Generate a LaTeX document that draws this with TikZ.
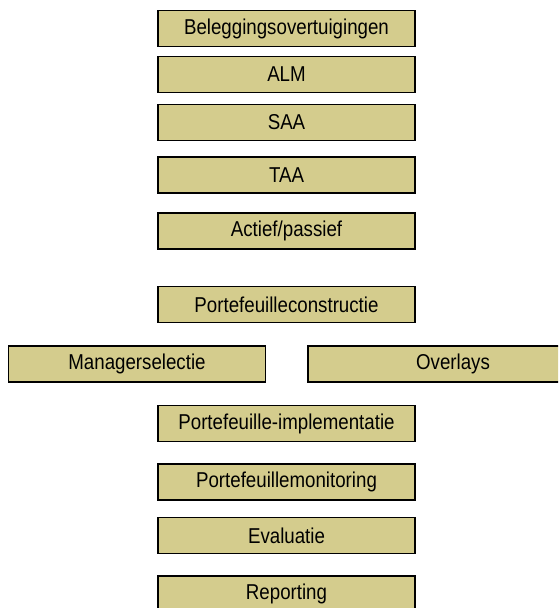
\documentclass[tikz,border=0pt]{standalone}
\usepackage{fontspec}
\setmainfont{Liberation Sans}[FakeStretch=0.87]
\definecolor{boxfill}{RGB}{212,204,141}
\begin{document}
\begin{tikzpicture}[x=1pt,y=-1pt,
  stepbox/.style={draw=black,line width=1.6pt,fill=boxfill,minimum width=257pt,minimum height=36pt,inner sep=0pt,
    font=\fontsize{21.5}{25}\selectfont,text=black}]
\useasboundingbox (0,0) rectangle (558,608);
\clip (0,0) rectangle (558,608);
\node[stepbox] (b1) at (286.5,28.5) {Beleggingsovertuigingen};
\node[stepbox] (b2) at (286.5,74.5) {ALM};
\node[stepbox] (b3) at (286.5,122.5) {SAA};
\node[stepbox] (b4) at (286.5,175) {TAA};
\node[stepbox] (b5) at (286.5,231) {Actief/passief};
\node[stepbox] (b6) at (286.5,304.5) {Portefeuilleconstructie};
\node[stepbox] (b7l) at (137,364) {Managerselectie};
\node[stepbox,minimum width=290pt] (b7r) at (453,364) {Overlays};
\node[stepbox] (b8) at (286.5,423.5) {Portefeuille-implementatie};
\node[stepbox] (b9) at (286.5,482) {Portefeuillemonitoring};
\node[stepbox] (b10) at (286.5,535.5) {Evaluatie};
\node[stepbox] (b11) at (286.5,594) {Reporting};
\end{tikzpicture}
\end{document}
